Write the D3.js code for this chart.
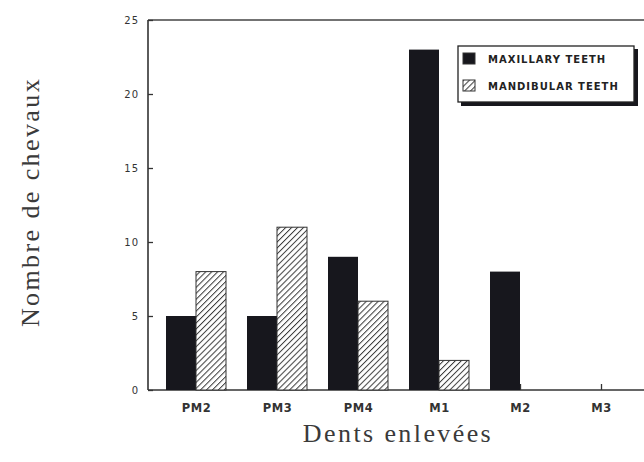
<!DOCTYPE html>
<html>
<head>
<meta charset="utf-8">
<script src="https://cdn.jsdelivr.net/npm/d3@7"></script>
<style>
  body { margin: 0; background: #fff; }
  svg { display: block; }
  .axis path { display: none; }
  .axis line { stroke: #333; stroke-width: 1.3; }
  .axis text { font-family: "DejaVu Sans", sans-serif; fill: #333; }
</style>
</head>
<body>
<div id="mainchart"></div>
<script>
var categories = ["PM2", "PM3", "PM4", "M1", "M2", "M3"];
var maxillary = [5, 5, 9, 23, 8, 0];
var mandibular = [8, 11, 6, 2, 0, 0];
var yTicks = [0, 5, 10, 15, 20, 25];
var seriesNames = ["MAXILLARY TEETH", "MANDIBULAR TEETH"];

var data = categories.map(function(c, i) {
    return {cat: c, max: maxillary[i], mand: mandibular[i]};
});

drawChart(data);

function drawChart(data){
    var margin = {top: 20, right: 0, bottom: 72, left: 148},
    width = 644 - margin.left - margin.right,
    height = 462 - margin.top - margin.bottom,
    ink = '#17171d', barW = 30;

    var root = d3.select("#mainchart").append("svg")
        .attr("width", 644)
        .attr("height", 462);

    var defs = root.append("defs");
    var pat = defs.append("pattern")
        .attr("id", "hatch")
        .attr("patternUnits", "userSpaceOnUse")
        .attr("width", 4.2).attr("height", 4.2)
        .attr("patternTransform", "rotate(45)");
    pat.append("rect").attr("width", 4.2).attr("height", 4.2).attr("fill", "#fff");
    pat.append("line")
        .attr("x1", 0).attr("y1", 0).attr("x2", 0).attr("y2", 4.2)
        .attr("stroke", "#3a3a3a").attr("stroke-width", 2);

    var svg = root.append('g').attr('transform', 'translate(' + margin.left + ',' + margin.top + ')');

    var x = d3.scalePoint().domain(categories).range([48, 453]);
    var y = d3.scaleLinear().domain([0, 25]).range([height, 0]);

    // frame lines: left axis, top line, bottom axis
    svg.append("line").attr("x1", 0).attr("x2", 0).attr("y1", 0).attr("y2", height)
        .attr("stroke", "#333").attr("stroke-width", 1.6);
    svg.append("line").attr("x1", 0).attr("x2", width).attr("y1", 0).attr("y2", 0)
        .attr("stroke", "#444").attr("stroke-width", 1.4);
    svg.append("line").attr("x1", 0).attr("x2", width).attr("y1", height).attr("y2", height)
        .attr("stroke", "#333").attr("stroke-width", 1.6);

    var yAxis = d3.axisLeft(y).tickValues(yTicks).tickSize(-5).tickSizeOuter(0).tickPadding(9);
    svg.append("g")
        .attr("class", "y axis")
        .call(yAxis)
        .selectAll("text")
        .style("font-size", "10px")
        .style("letter-spacing", "1px");

    var xAxis = d3.axisBottom(x).tickSize(-6).tickSizeOuter(0).tickPadding(14);
    svg.append("g")
        .attr("class", "x axis")
        .attr("transform", "translate(0," + height + ")")
        .call(xAxis)
        .selectAll("text")
        .style("font-size", "11.5px")
        .style("font-weight", "bold")
        .style("letter-spacing", "0.5px");

    svg.selectAll("rect.max")
        .data(data).enter()
        .append("rect")
        .attr("class", "max")
        .attr("x", function(d) { return x(d.cat) - barW; })
        .attr("y", function(d) { return y(d.max); })
        .attr("width", barW)
        .attr("height", function(d) { return height - y(d.max); })
        .attr("fill", ink);

    svg.selectAll("rect.mand")
        .data(data.filter(function(d) { return d.mand > 0; })).enter()
        .append("rect")
        .attr("class", "mand")
        .attr("x", function(d) { return x(d.cat); })
        .attr("y", function(d) { return y(d.mand); })
        .attr("width", barW)
        .attr("height", function(d) { return height - y(d.mand); })
        .attr("fill", "url(#hatch)")
        .attr("stroke", "#333")
        .attr("stroke-width", 1);

    // legend
    var lg = root.append("g").attr("transform", "translate(458,46)");
    lg.append("rect").attr("x", 3).attr("y", 3).attr("width", 177).attr("height", 57).attr("fill", ink);
    lg.append("rect").attr("width", 176).attr("height", 56)
        .attr("fill", "#fff").attr("stroke", "#222").attr("stroke-width", 1.3);
    var items = lg.selectAll("g.item").data(seriesNames).enter().append("g")
        .attr("class", "item")
        .attr("transform", function(d, i) { return "translate(5," + (7 + i * 27) + ")"; });
    items.append("rect")
        .attr("width", 12).attr("height", 11)
        .attr("fill", function(d, i) { return i === 0 ? ink : "url(#hatch)"; })
        .attr("stroke", "#333").attr("stroke-width", 1);
    items.append("text")
        .attr("x", 25).attr("y", 10)
        .text(function(d) { return d; })
        .style("font-family", "DejaVu Sans, sans-serif")
        .style("font-size", "10px")
        .style("font-weight", "bold")
        .style("letter-spacing", "1px")
        .attr("fill", "#222");

    // axis titles
    root.append("text")
        .attr("transform", "translate(39,202) rotate(-90)")
        .attr("text-anchor", "middle")
        .style("font-family", "Liberation Serif, serif")
        .style("font-size", "26px")
        .style("letter-spacing", "2.4px")
        .attr("fill", "#3a3a3a")
        .text("Nombre de chevaux");

    root.append("text")
        .attr("x", 398).attr("y", 442)
        .attr("text-anchor", "middle")
        .style("font-family", "Liberation Serif, serif")
        .style("font-size", "26px")
        .style("letter-spacing", "2.4px")
        .attr("fill", "#3a3a3a")
        .text("Dents enlevées");
}
</script>
</body>
</html>
